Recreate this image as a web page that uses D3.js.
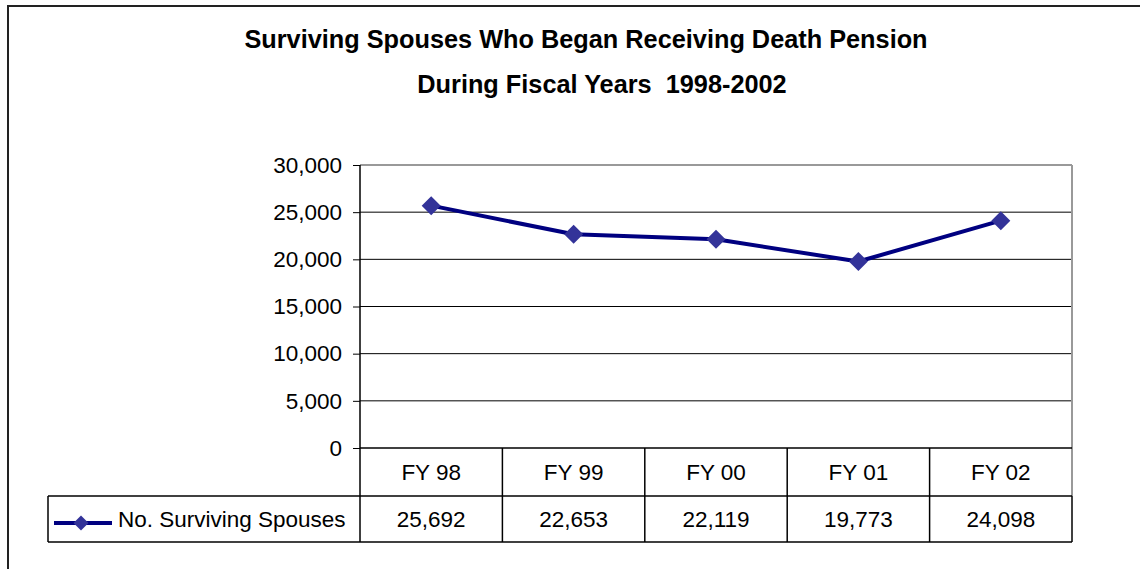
<!DOCTYPE html>
<html>
<head>
<meta charset="utf-8">
<script src="https://cdn.jsdelivr.net/npm/d3@7"></script>
<style>
  body { margin: 0; background: #fff; }
  svg { display: block; font-family: Arial, "Liberation Sans", sans-serif; }
</style>
</head>
<body>
<svg id="chart" width="1140" height="569"></svg>
<script>
const categories = ["FY 98", "FY 99", "FY 00", "FY 01", "FY 02"];
const values = [25692, 22653, 22119, 19773, 24098];
const yTicks = [0, 5000, 10000, 15000, 20000, 25000, 30000];
const seriesName = "No. Surviving Spouses";
const titleLines = ["Surviving Spouses Who Began Receiving Death Pension", "During Fiscal Years\u00a0\u00a01998-2002"];

const svg = d3.select("#chart");
const plot = { left: 360, right: 1072, top: 165, bottom: 448 };
const rowCat = 496, rowVal = 542, legendLeft = 48;
const labelSize = 22.5;

// outer chart border (runs off the picture at right and bottom)
svg.append("rect").attr("x", 8).attr("y", 6).attr("width", 1300).attr("height", 700)
  .attr("fill", "none").attr("stroke", "#222").attr("stroke-width", 2);

// title
svg.selectAll("text.title").data(titleLines).enter().append("text")
  .attr("class", "title")
  .attr("x", (d, i) => i === 0 ? 586 : 602)
  .attr("y", (d, i) => 48 + i * 45)
  .attr("text-anchor", "middle")
  .attr("font-size", 25.3).attr("font-weight", "bold").attr("fill", "#000")
  .text(d => d);

const x = d3.scaleBand().domain(categories).range([plot.left, plot.right]);
const y = d3.scaleLinear().domain([0, 30000]).range([plot.bottom, plot.top]);

// gridlines
svg.append("g").selectAll("line").data(yTicks.filter(t => t > 0 && t < 30000)).enter().append("line")
  .attr("x1", plot.left).attr("x2", plot.right)
  .attr("y1", d => y(d)).attr("y2", d => y(d))
  .attr("stroke", "#000").attr("stroke-width", 1);

// plot frame (top and right are grey)
svg.append("line").attr("x1", plot.left).attr("x2", plot.right).attr("y1", y(30000)).attr("y2", y(30000))
  .attr("stroke", "#999").attr("stroke-width", 2);
svg.append("line").attr("x1", plot.right).attr("x2", plot.right).attr("y1", plot.top).attr("y2", rowCat)
  .attr("stroke", "#999").attr("stroke-width", 2);

// y axis
const yAxis = svg.append("g").attr("transform", `translate(${plot.left},0)`)
  .call(d3.axisLeft(y).tickValues(yTicks).tickSize(7).tickPadding(11).tickFormat(d3.format(",")));
yAxis.select(".domain").remove();
yAxis.selectAll(".tick line").attr("stroke", "#000");
yAxis.selectAll(".tick text").attr("font-size", labelSize).attr("fill", "#000")
  .attr("font-family", "Arial, 'Liberation Sans', sans-serif");
svg.append("line").attr("x1", plot.left).attr("x2", plot.left).attr("y1", plot.top).attr("y2", rowVal)
  .attr("stroke", "#000").attr("stroke-width", 1.5);

// data table
const tbl = svg.append("g").attr("stroke", "#000").attr("stroke-width", 1.5);
tbl.append("line").attr("x1", plot.left).attr("x2", plot.right).attr("y1", plot.bottom).attr("y2", plot.bottom);
tbl.append("line").attr("x1", legendLeft).attr("x2", plot.right).attr("y1", rowCat).attr("y2", rowCat);
tbl.append("line").attr("x1", legendLeft).attr("x2", plot.right).attr("y1", rowVal).attr("y2", rowVal);
tbl.append("line").attr("x1", legendLeft).attr("x2", legendLeft).attr("y1", rowCat).attr("y2", rowVal);
tbl.append("line").attr("x1", plot.right).attr("x2", plot.right).attr("y1", rowCat).attr("y2", rowVal);
tbl.selectAll("line.div").data(categories.slice(1)).enter().append("line")
  .attr("x1", d => x(d)).attr("x2", d => x(d)).attr("y1", plot.bottom).attr("y2", rowVal);

svg.append("g").selectAll("text").data(categories).enter().append("text")
  .attr("x", d => x(d) + x.bandwidth() / 2).attr("y", (plot.bottom + rowCat) / 2).attr("dy", "0.36em")
  .attr("text-anchor", "middle").attr("font-size", labelSize).text(d => d);
svg.append("g").selectAll("text").data(values).enter().append("text")
  .attr("x", (d, i) => x(categories[i]) + x.bandwidth() / 2).attr("y", (rowCat + rowVal) / 2).attr("dy", "0.36em")
  .attr("text-anchor", "middle").attr("font-size", labelSize).text(d => d3.format(",")(d));

// series
const diamond = (s) => `M0,${-s}L${s},0L0,${s}L${-s},0Z`;
const line = d3.line().x((d, i) => x(categories[i]) + x.bandwidth() / 2).y(d => y(d));
svg.append("path").datum(values).attr("d", line)
  .attr("fill", "none").attr("stroke", "#000080").attr("stroke-width", 4).attr("stroke-linejoin", "round");
svg.append("g").selectAll("path").data(values).enter().append("path")
  .attr("transform", (d, i) => `translate(${x(categories[i]) + x.bandwidth() / 2},${y(d)})`)
  .attr("d", diamond(9.5)).attr("fill", "#333399");

// legend key in the table
const ly = (rowCat + rowVal) / 2 + 4;
svg.append("line").attr("x1", 54).attr("x2", 112).attr("y1", ly).attr("y2", ly)
  .attr("stroke", "#000080").attr("stroke-width", 4);
svg.append("path").attr("transform", `translate(81,${ly})`).attr("d", diamond(7.5)).attr("fill", "#333399");
svg.append("text").attr("x", 118).attr("y", (rowCat + rowVal) / 2).attr("dy", "0.36em")
  .attr("font-size", labelSize).text(seriesName);
</script>
</body>
</html>
